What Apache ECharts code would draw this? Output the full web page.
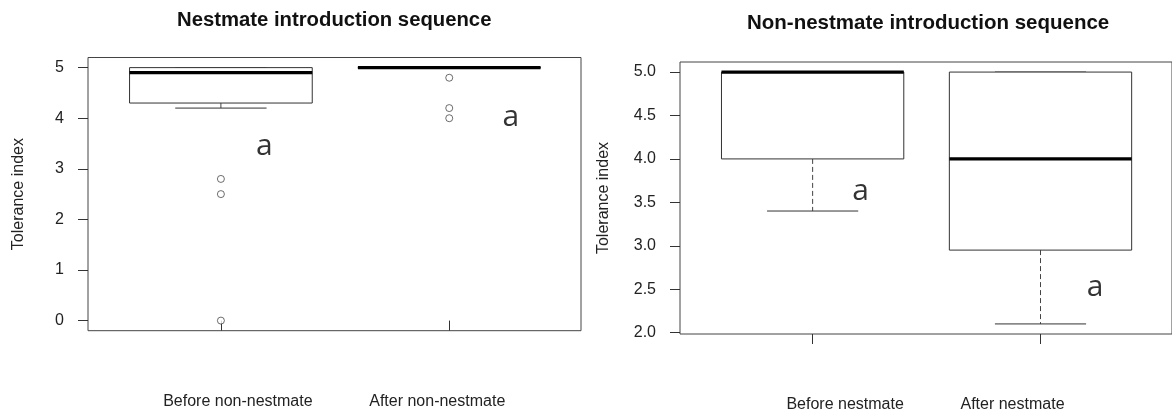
<!DOCTYPE html>
<html>
<head>
<meta charset="utf-8">
<script src="https://cdn.jsdelivr.net/npm/echarts@6/dist/echarts.min.js"></script>
<style>
  html, body { margin: 0; padding: 0; background: #fff; }
  #chart { width: 1172px; height: 416px; }
</style>
</head>
<body>
<div id="chart"></div>
<script>
// Tolerance index, before/after the introduction sequences
const nestmateTitle = 'Nestmate introduction sequence';
const nonNestmateTitle = 'Non-nestmate introduction sequence';
const axisName = 'Tolerance index';

// five-number summaries: [lower whisker, Q1, median, Q3, upper whisker]
const nestmateCategories = ['Before non-nestmate', 'After non-nestmate'];
const nestmateBoxes = [
  [4.2, 4.3, 4.9, 5.0, 5.0],
  [5.0, 5.0, 5.0, 5.0, 5.0]
];
const nestmateOutliers = [
  [2.8, 2.5, 0.0],
  [4.8, 4.2, 4.0]
];
const nestmateTicks = [0, 1, 2, 3, 4, 5];

const nonNestmateCategories = ['Before nestmate', 'After nestmate'];
const nonNestmateBoxes = [
  [3.4, 4.0, 5.0, 5.0, 5.0],
  [2.1, 2.95, 4.0, 5.0, 5.0]
];
const nonNestmateOutliers = [[], []];
const nonNestmateTicks = [2.0, 2.5, 3.0, 3.5, 4.0, 4.5, 5.0];

const significance = ['a', 'a'];

const FONT = 'Liberation Sans, Arial, sans-serif';
const INK = '#222';
const BOX_WIDTH = 0.8;   // in x-axis units, one unit per group
const STAPLE_RATIO = 0.5;

function boxData(boxes) {
  return boxes.map((b, i) => [i + 1].concat(b));
}
function outlierData(groups) {
  const out = [];
  groups.forEach((vals, i) => vals.forEach(v => out.push([i + 1, v])));
  return out;
}

function renderBox(params, api) {
  const x = api.value(0);
  const low = api.value(1), q1 = api.value(2), med = api.value(3),
        q3 = api.value(4), high = api.value(5);
  const half = api.size([BOX_WIDTH, 0])[0] / 2;
  const capHalf = half * STAPLE_RATIO;
  const c = v => api.coord([x, v]);
  const pLow = c(low), pQ1 = c(q1), pMed = c(med), pQ3 = c(q3), pHigh = c(high);
  const cx = pMed[0];
  const thin = { stroke: '#333', lineWidth: 1, fill: null };
  const dashed = { stroke: '#444', lineWidth: 1, lineDash: [5, 3] };
  return {
    type: 'group',
    children: [
      { type: 'line', shape: { x1: cx, y1: pQ1[1], x2: cx, y2: pLow[1] }, style: dashed },
      { type: 'line', shape: { x1: cx, y1: pQ3[1], x2: cx, y2: pHigh[1] }, style: dashed },
      { type: 'line', shape: { x1: cx - capHalf, y1: pLow[1], x2: cx + capHalf, y2: pLow[1] }, style: thin },
      { type: 'line', shape: { x1: cx - capHalf, y1: pHigh[1], x2: cx + capHalf, y2: pHigh[1] }, style: thin },
      { type: 'rect', shape: { x: cx - half, y: pQ3[1], width: half * 2, height: pQ1[1] - pQ3[1] },
        style: { stroke: '#333', lineWidth: 1, fill: '#fff' } },
      { type: 'line', shape: { x1: cx - half, y1: pMed[1], x2: cx + half, y2: pMed[1] },
        style: { stroke: '#000', lineWidth: 3.2 } }
    ]
  };
}

function labelFormatter(cats) {
  return v => (v === 1 ? '{l|' + cats[0] + '}' : '{r|' + cats[1] + '}');
}

function xAxisFor(gridIndex, cats, padL, padR) {
  return {
    type: 'value', gridIndex: gridIndex, min: 0.418, max: 2.577,
    axisLine: { show: false },
    splitLine: { show: false },
    axisTick: { show: true, customValues: [1, 2], length: 10, lineStyle: { color: '#333' } },
    axisLabel: {
      customValues: [1, 2], margin: 62,
      formatter: labelFormatter(cats),
      rich: {
        l: { fontFamily: FONT, fontSize: 16, color: INK, padding: [0, 0, 0, padL], lineHeight: 18 },
        r: { fontFamily: FONT, fontSize: 16, color: INK, padding: [0, padR, 0, 0], lineHeight: 18 }
      }
    }
  };
}

function yAxisFor(gridIndex, min, max, ticks, digits, gap, labelMargin) {
  return {
    type: 'value', gridIndex: gridIndex, min: min, max: max,
    axisLine: { show: false },
    splitLine: { show: false },
    axisTick: { show: true, customValues: ticks, length: 10, lineStyle: { color: '#333' } },
    axisLabel: {
      customValues: ticks, margin: labelMargin,
      fontFamily: FONT, fontSize: 16, color: INK,
      formatter: v => Number(v).toFixed(digits)
    },
    name: axisName, nameLocation: 'middle', nameGap: gap,
    nameTextStyle: { fontFamily: FONT, fontSize: 16, color: INK }
  };
}

function letterSeries(xAxisIndex, yAxisIndex, spots) {
  return {
    type: 'scatter', xAxisIndex: xAxisIndex, yAxisIndex: yAxisIndex,
    symbolSize: 0, silent: true,
    data: spots.map((p, i) => ({ value: p, name: significance[i] })),
    label: {
      show: true, position: 'inside', formatter: '{b}',
      fontFamily: 'Open Sans, Noto Sans, sans-serif', fontSize: 30, color: '#000'
    }
  };
}

function outlierSeries(xAxisIndex, yAxisIndex, groups) {
  return {
    type: 'scatter', xAxisIndex: xAxisIndex, yAxisIndex: yAxisIndex,
    symbol: 'circle', symbolSize: 7,
    itemStyle: { color: '#fff', borderColor: '#333', borderWidth: 0.9 },
    data: outlierData(groups), z: 3
  };
}

const chart = echarts.init(document.getElementById('chart'), null, { renderer: 'canvas' });
chart.setOption({
  animation: false,
  backgroundColor: '#fff',
  title: [
    { text: nestmateTitle, left: 177, top: 10, padding: 0,
      textStyle: { fontFamily: FONT, fontSize: 20.3, fontWeight: 'bold', color: '#111' } },
    { text: nonNestmateTitle, left: 747, top: 13, padding: 0,
      textStyle: { fontFamily: FONT, fontSize: 20.5, fontWeight: 'bold', color: '#111' } }
  ],
  grid: [
    { left: 88, top: 57.5, width: 493, height: 273.2, show: true, borderColor: '#444', borderWidth: 1, backgroundColor: 'transparent' },
    { left: 680, top: 62, width: 501.5, height: 272, show: true, borderColor: '#444', borderWidth: 1, backgroundColor: 'transparent' }
  ],
  xAxis: [
    xAxisFor(0, nestmateCategories, 34, 24),
    xAxisFor(1, nonNestmateCategories, 65, 56)
  ],
  yAxis: [
    yAxisFor(0, -0.2, 5.2, nestmateTicks, 0, 61, 24),
    yAxisFor(1, 1.984, 5.116, nonNestmateTicks, 1, 68, 24)
  ],
  series: [
    { type: 'custom', xAxisIndex: 0, yAxisIndex: 0, renderItem: renderBox,
      encode: { x: 0, y: [1, 2, 3, 4, 5] }, data: boxData(nestmateBoxes), z: 2 },
    outlierSeries(0, 0, nestmateOutliers),
    { type: 'custom', xAxisIndex: 1, yAxisIndex: 1, renderItem: renderBox,
      encode: { x: 0, y: [1, 2, 3, 4, 5] }, data: boxData(nonNestmateBoxes), z: 2 },
    outlierSeries(1, 1, nonNestmateOutliers),
    // group letters placed beside each box, in axis units
    letterSeries(0, 0, [[1.19, 3.44], [2.27, 4.01]]),
    letterSeries(1, 1, [[1.21, 3.62], [2.24, 2.52]])
  ]
});
</script>
</body>
</html>
